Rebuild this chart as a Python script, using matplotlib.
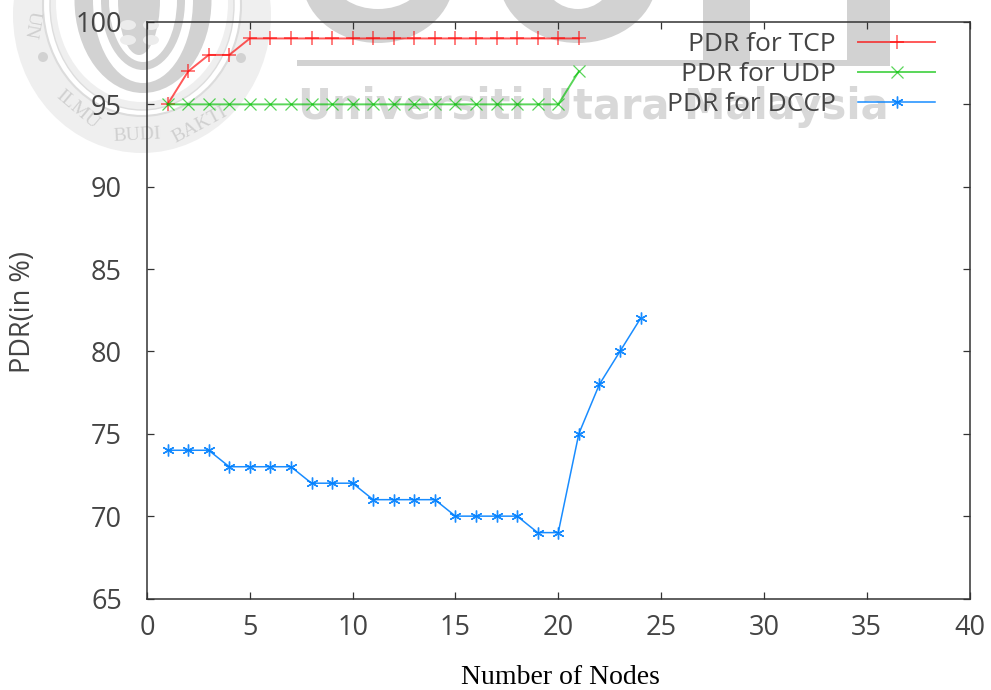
import matplotlib
matplotlib.use("Agg")
import matplotlib.pyplot as plt
from matplotlib.patches import Ellipse, Rectangle

nodes_tcp = list(range(1, 22))
pdr_tcp = [95, 97, 98, 98] + [99] * 17
nodes_udp = list(range(1, 22))
pdr_udp = [95] * 20 + [97]
nodes_dccp = list(range(1, 25))
pdr_dccp = [74, 74, 74, 73, 73, 73, 73, 72, 72, 72, 71, 71, 71, 71, 70, 70, 70, 70, 69, 69, 75, 78, 80, 82]
xticks = list(range(0, 45, 5))
yticks = list(range(65, 105, 5))

W, H = 991, 690
plt.rcParams["font.family"] = ["Open Sans", "DejaVu Sans"]
fig = plt.figure(figsize=(W / 100, H / 100), dpi=100, facecolor="white")
ax = fig.add_axes([147 / W, 1 - 598.5 / H, (969.5 - 147) / W, (598.5 - 22) / H])
ax.patch.set_alpha(0)


# Watermark in figure pixels
def px(x, y):
    return x / W, 1 - y / H


wm = "#d2d2d2"
wl = "#efefef"
t = fig.transFigure
sx, sy = 1 / W, 1 / H


def ell(cx, cy, w, h, c, **kw):
    fig.add_artist(Ellipse(px(cx, cy), w * sx, h * sy, transform=t, zorder=-5,
                           facecolor=c, edgecolor=kw.pop("ec", "none"), **kw))


def rect(x0, y0, x1, y1, c=wm):
    fig.add_artist(Rectangle(px(x0, y1), (x1 - x0) * sx, (y1 - y0) * sy, transform=t,
                             facecolor=c, edgecolor="none", zorder=-5))


ell(142, 15, 258, 276, wl)
ell(142, 5, 198, 222, "white", ec="#dcdcdc", lw=1.5)
ell(142, 5, 184, 210, wl, ec="#dddddd", lw=1)
ell(142, 3, 172, 198, "white")
ell(143, 0, 137, 186, wm)
ell(143, 0, 100, 166, "white")
ell(143, 0, 84, 140, wm)
ell(143, 0, 68, 124, "white")
ell(139, 0, 42, 110, wm)
for yy in (25, 40):
    ell(128, yy, 16, 10, "#ececec")
    ell(151, yy, 16, 10, "#ececec")
ell(43, 57, 10, 10, wm)
ell(241, 58, 10, 10, wm)
sealtext = dict(family="Liberation Serif", color="#d0d0d0", fontsize=14, ha="center", va="center", zorder=-4)
fig.text(*px(137, 135), "BUDI", rotation=3, **sealtext)
fig.text(*px(200, 125), "BAKTI", rotation=28, **sealtext)
fig.text(*px(77, 110), "ILMU", rotation=-40, **sealtext)
fig.text(*px(32, 25), "UN", rotation=-100, **sealtext)

ell(378, -22, 152, 130, wm)
ell(378, -22, 90, 62, "white")
ell(578, -22, 158, 130, wm)
ell(578, -22, 68, 62, "white")
rect(703, 0, 750, 60)
rect(847, 0, 890, 60)
rect(297, 60, 890, 66)
fig.text(*px(593, 107), "Universiti Utara Malaysia", family="DejaVu Sans", weight="bold", color="#d8d8d8",
         fontsize=30, ha="center", va="center", zorder=-4)

ax.plot(nodes_tcp, pdr_tcp, color="#ff0000", lw=1.4, marker="+", ms=9.5, mew=1.1, alpha=0.65, label="PDR for TCP")
ax.plot(nodes_udp, pdr_udp, color="#00c000", lw=1.4, marker="x", ms=8.5, mew=0.9, alpha=0.65, label="PDR for UDP")
ax.plot(nodes_dccp, pdr_dccp, color="#0080ff", lw=1.1, marker=(6, 2, 0), ms=8.5, mew=1, alpha=0.9, label="PDR for DCCP")

ax.set_xlim(0, 40)
ax.set_ylim(65, 100)
ax.set_xticks(xticks)
ax.set_yticks(yticks)
ax.tick_params(direction="in", top=True, right=True, length=5, width=0.9, color="#333333",
               labelsize=19.5, labelcolor="#444444")
ax.tick_params(axis="x", pad=11)
ax.tick_params(axis="y", pad=18)
for s in ax.spines.values():
    s.set_linewidth(1.1)
    s.set_color("#333333")

ax.legend(loc="upper right", bbox_to_anchor=((935 - 147) / 822.5, 1 - 10 / 576.5), frameon=False, markerfirst=False,
          fontsize=19, labelcolor="#444444", handlelength=2.9, handletextpad=0.85, labelspacing=0.19,
          borderaxespad=0, borderpad=0)

fig.text(*px(23, 312), "PDR(in %)", rotation=90, ha="center", va="center", fontsize=19.5, color="#444444")
fig.text(*px(560, 678), "Number of Nodes", family="Liberation Serif", ha="center", va="center",
         fontsize=20, color="black")

fig.savefig("out.png", dpi=100)
